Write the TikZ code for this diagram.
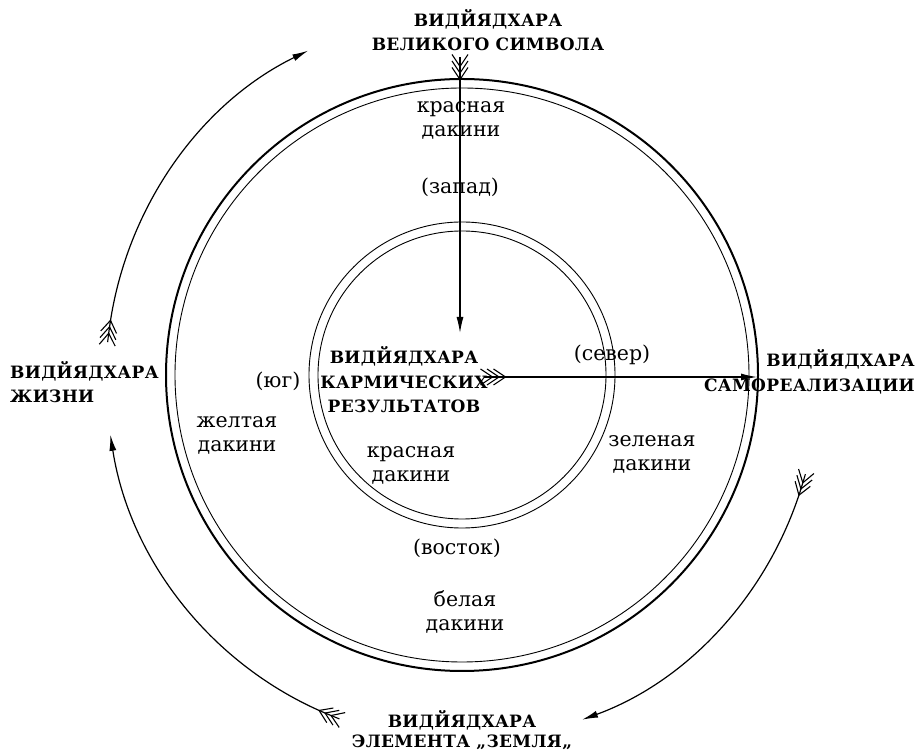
\documentclass[tikz,border=0pt]{standalone}
\usepackage{fontspec}
\setmainfont{DejaVu Serif}
\newfontfamily\capsf[LetterSpace=2]{DejaVu Serif}
\usetikzlibrary{arrows.meta,decorations.markings,calc}
\begin{document}
\begin{tikzpicture}[x=1pt,y=1pt,
  caps/.style={font=\capsf\bfseries\fontsize{17}{24.5}\selectfont, inner sep=0pt},
  lowtxt/.style={font=\fontsize{20.5}{24}\selectfont, align=center, inner sep=0pt},
  ringthick/.style={line width=2pt},
  ringthin/.style={line width=0.9pt},
  arr/.style={line width=1.2pt, -{Latex[length=16pt,width=7pt]}},
  chev/.style={-, line width=1.1pt},
  fletch/.style={postaction={decorate}, decoration={markings,
     mark=at position 0.5pt with {\draw[chev] (-12pt,8pt)--(0,0)--(-12pt,-8pt); \draw[chev] (-9pt,0)--(0,0);},
     mark=at position 7pt with {\draw[chev] (-12pt,8pt)--(0,0)--(-12pt,-8pt);},
     mark=at position 13.5pt with {\draw[chev] (-12pt,8pt)--(0,0)--(-12pt,-8pt);}}}
]
\useasboundingbox (0,0) rectangle (919,752);
\coordinate (C) at (462,377);
\coordinate (E) at (462,374);
% rings
\draw[ringthick] (C) circle[radius=296pt];
\draw[ringthin] (C) circle[radius=287pt];
\draw[ringthin] (C) circle[radius=153pt];
\draw[ringthin] (C) circle[radius=144pt];
% labels
\node[caps, align=center] (top) at (488,722) {ВИДЙЯДХАРА\\ВЕЛИКОГО СИМВОЛА};
\node[lowtxt] (red1) at (461,632) {красная\\дакини};
\node[lowtxt] (west) at (460,565) {(запад)};
\node[caps, align=center] (karma) at (404,372) {ВИДЙЯДХАРА\\КАРМИЧЕСКИХ\\РЕЗУЛЬТАТОВ};
\node[lowtxt] (north) at (612,397) {(север)};
\node[lowtxt] (south) at (278,371) {(юг)};
\node[lowtxt] (yellow) at (237,317) {желтая\\дакини};
\node[lowtxt] (green) at (652,298) {зеленая\\дакини};
\node[lowtxt] (red2) at (411,287) {красная\\дакини};
\node[lowtxt] (east) at (457,204) {(восток)};
\node[lowtxt] (white) at (465,140) {белая\\дакини};
\node[caps, align=left, anchor=west] (life) at (10,370) {ВИДЙЯДХАРА\\ЖИЗНИ};
\node[caps, align=right, anchor=east] (self) at (915,380) {ВИДЙЯДХАРА\\САМОРЕАЛИЗАЦИИ};
\node[caps, align=center, font=\capsf\bfseries\fontsize{17}{20.5}\selectfont] (earth) at (462,22) {ВИДЙЯДХАРА\\ЭЛЕМЕНТА „ЗЕМЛЯ„};
% straight arrows
\coordinate (vt) at (460,686);
\coordinate (vh) at (460,419);
\coordinate (ht) at (492,375);
\coordinate (hh) at (757,375);
\draw[arr, fletch] (vt) -- (vh);
\draw[arr, fletch] (ht) -- (hh);
% curved arrows
\coordinate (tlS) at ($(E)+(173:356pt and 363pt)$);
\coordinate (lbS) at ($(E)+(248.5:356pt and 363pt)$);
\coordinate (rbS) at ($(E)+(-16.7:356pt and 363pt)$);
\draw[arr, fletch] (tlS) arc[start angle=173, end angle=115.6, x radius=356pt, y radius=363pt];
\draw[arr, fletch] (lbS) arc[start angle=248.5, end angle=189, x radius=356pt, y radius=363pt];
\draw[arr, fletch] (rbS) arc[start angle=-16.7, end angle=-70.3, x radius=356pt, y radius=363pt];
\end{tikzpicture}
\end{document}
